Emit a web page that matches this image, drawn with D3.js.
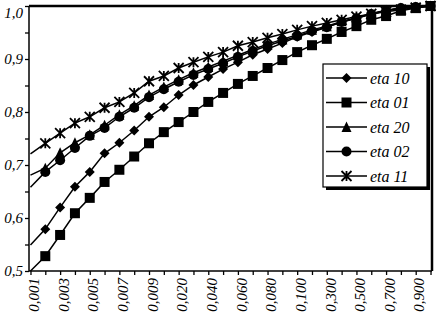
<!DOCTYPE html>
<html>
<head>
<meta charset="utf-8">
<script src="https://cdn.jsdelivr.net/npm/d3@7"></script>
<style>
  body { margin: 0; background: #fff; }
  text { font-family: "Liberation Serif", "Times New Roman", serif; font-style: italic; fill: #000; }
</style>
</head>
<body>
<svg width="437" height="320"></svg>

<script>

  // data
  var categories = ["0,001", "0,002", "0,003", "0,004", "0,005", "0,006", "0,007", "0,008", "0,009",
                    "0,010", "0,020", "0,030", "0,040", "0,050", "0,060", "0,070", "0,080", "0,090",
                    "0,100", "0,200", "0,300", "0,400", "0,500", "0,600", "0,700", "0,800", "0,900"];

  var eta10 = [0.579, 0.620, 0.659, 0.687, 0.722, 0.742, 0.765, 0.791, 0.809, 0.832, 0.851, 0.866, 0.881, 0.894,
               0.908, 0.919, 0.930, 0.942, 0.951, 0.960, 0.970, 0.977, 0.985, 0.991, 0.996, 0.998, 1.000];
  var eta01 = [0.528, 0.568, 0.609, 0.638, 0.668, 0.691, 0.716, 0.741, 0.762, 0.781, 0.800, 0.819, 0.836, 0.853,
               0.868, 0.883, 0.898, 0.913, 0.926, 0.938, 0.951, 0.962, 0.974, 0.981, 0.991, 0.996, 1.000];
  var eta20 = [0.694, 0.723, 0.742, 0.757, 0.775, 0.795, 0.812, 0.832, 0.847, 0.861, 0.874, 0.885, 0.896, 0.907,
               0.918, 0.928, 0.937, 0.946, 0.955, 0.962, 0.971, 0.978, 0.986, 0.992, 0.996, 0.998, 1.000];
  var eta02 = [0.687, 0.709, 0.732, 0.755, 0.770, 0.791, 0.808, 0.828, 0.843, 0.857, 0.870, 0.881, 0.892, 0.904,
               0.915, 0.925, 0.934, 0.943, 0.953, 0.960, 0.970, 0.977, 0.985, 0.991, 0.996, 0.998, 1.000];
  var eta11 = [0.741, 0.760, 0.779, 0.791, 0.808, 0.819, 0.836, 0.858, 0.868, 0.883, 0.894, 0.904, 0.913, 0.925,
               0.932, 0.940, 0.947, 0.955, 0.962, 0.968, 0.974, 0.980, 0.985, 0.989, 0.993, 0.997, 1.000];

  // where each line meets the value axis
  var axisStart = { "eta 10": 0.549, "eta 01": 0.500, "eta 20": 0.681, "eta 02": 0.658, "eta 11": 0.721 };

  var seriesNames = ["eta 10", "eta 01", "eta 20", "eta 02", "eta 11"];
  var seriesShapes = ["diamond", "square", "triangle", "circle", "star"];
  var yTicks = [0.5, 0.6, 0.7, 0.8, 0.9, 1.0];

  var series = [eta10, eta01, eta20, eta02, eta11].map(function(values, i){
    return { name: seriesNames[i], shape: seriesShapes[i], start: axisStart[seriesNames[i]], values: values };
  });

  // layout
  var plotLeft = 29, plotRight = 432, plotTop = 6, plotBottom = 271;

  var svg = d3.select("svg");

  var x = d3.scaleLinear().domain([-0.1, 27.1]).range([plotLeft, plotRight]);
  var y = d3.scaleLinear().domain([0.5, 1.0]).range([plotBottom, plotTop]);

  // value axis, minor ticks every 0.05
  var yAxis = d3.axisLeft(y)
    .tickValues(d3.range(0, 11).map(function(i){ return 0.5 + i * 0.05; }))
    .tickSize(4)
    .tickFormat(function(d){
      var hit = yTicks.filter(function(t){ return Math.abs(t - d) < 1e-6; });
      return hit.length ? d3.format(".1f")(hit[0]).replace(".", ",") : "";
    });

  var gy = svg.append("g").attr("transform", "translate(" + plotLeft + ",0)").call(yAxis);
  gy.select(".domain").remove();
  gy.selectAll("line").attr("stroke", "#000").attr("stroke-width", 1.3);
  gy.selectAll("text")
    .attr("x", -6)
    .attr("font-size", 15)
    .attr("font-family", null)
    .attr("dy", function(d){ return d > 0.99 ? "0.75em" : "0.32em"; });

  // category axis
  var xAxis = d3.axisBottom(x)
    .tickValues(d3.range(0, 28))
    .tickSize(4)
    .tickFormat(function(d){
      return (d % 2 === 0 && d < categories.length) ? categories[d] : "";
    });

  var gx = svg.append("g").attr("transform", "translate(0," + plotBottom + ")").call(xAxis);
  gx.select(".domain").remove();
  gx.selectAll("line").attr("stroke", "#000").attr("stroke-width", 1.3);
  gx.selectAll("text")
    .attr("font-size", 15)
    .attr("font-family", null)
    .attr("text-anchor", "end")
    .attr("transform", "rotate(-90)")
    .attr("x", -7)
    .attr("y", 3)
    .attr("dy", "0.35em");

  // plot frame
  svg.append("line").attr("x1", plotLeft).attr("x2", plotLeft).attr("y1", plotTop).attr("y2", plotBottom)
    .attr("stroke", "#000").attr("stroke-width", 1.5);
  svg.append("line").attr("x1", plotLeft).attr("x2", plotRight).attr("y1", plotBottom).attr("y2", plotBottom)
    .attr("stroke", "#000").attr("stroke-width", 1.5);
  svg.append("line").attr("x1", plotLeft).attr("x2", plotRight + 1).attr("y1", plotTop).attr("y2", plotTop)
    .attr("stroke", "#000").attr("stroke-width", 2.5);
  svg.append("line").attr("x1", plotRight).attr("x2", plotRight).attr("y1", plotTop).attr("y2", plotBottom)
    .attr("stroke", "#000").attr("stroke-width", 2.5);

  // markers
  function drawMarker(g, shape, cx, cy){
    var s = 5;
    if (shape === "diamond") {
      g.append("path").attr("d", "M" + cx + "," + (cy - s) + "L" + (cx + s) + "," + cy + "L" + cx + "," + (cy + s) + "L" + (cx - s) + "," + cy + "Z");
    } else if (shape === "square") {
      g.append("rect").attr("x", cx - s).attr("y", cy - s).attr("width", 2 * s).attr("height", 2 * s);
    } else if (shape === "triangle") {
      g.append("path").attr("d", "M" + cx + "," + (cy - s - 0.5) + "L" + (cx + s) + "," + (cy + s) + "L" + (cx - s) + "," + (cy + s) + "Z");
    } else if (shape === "circle") {
      g.append("circle").attr("cx", cx).attr("cy", cy).attr("r", s);
    } else {
      g.append("path")
        .attr("d", "M" + (cx - s) + "," + (cy - s) + "L" + (cx + s) + "," + (cy + s) +
                   "M" + (cx + s) + "," + (cy - s) + "L" + (cx - s) + "," + (cy + s) +
                   "M" + cx + "," + (cy - s) + "L" + cx + "," + (cy + s))
        .attr("fill", "none").attr("stroke", "#000").attr("stroke-width", 1.8);
    }
  }

  var line = d3.line()
    .x(function(d){ return x(d.k); })
    .y(function(d){ return y(d.v); });

  series.forEach(function(s){
    var pts = [{ k: 0, v: s.start }].concat(s.values.map(function(v, i){ return { k: i + 1, v: v }; }));

    svg.append("path")
      .datum(pts)
      .attr("d", line)
      .attr("fill", "none")
      .attr("stroke", "#000")
      .attr("stroke-width", 1.5);

    var g = svg.append("g").attr("fill", "#000");
    pts.slice(1).forEach(function(p){
      drawMarker(g, s.shape, x(p.k), y(p.v));
    });
  });

  // legend
  var lx = 323, ly = 64, lw = 104, lh = 123;
  svg.append("rect").attr("x", lx + 3).attr("y", ly + 3).attr("width", lw).attr("height", lh).attr("fill", "#000");
  svg.append("rect").attr("x", lx).attr("y", ly).attr("width", lw).attr("height", lh)
    .attr("fill", "#fff").attr("stroke", "#000").attr("stroke-width", 1.2);

  var legend = svg.append("g").selectAll("g")
    .data(series)
    .enter().append("g")
    .attr("transform", function(d, i){ return "translate(" + lx + "," + (ly + 14 + i * 24.5) + ")"; });

  legend.append("line")
    .attr("x1", 3).attr("x2", 44)
    .attr("stroke", "#000").attr("stroke-width", 1.5);

  legend.each(function(d){
    var g = d3.select(this).append("g").attr("fill", "#000");
    drawMarker(g, d.shape, 23.5, 0);
  });

  legend.append("text")
    .attr("x", 47)
    .attr("dy", "0.35em")
    .attr("font-size", 16)
    .text(function(d){ return d.name; });

</script>
</body>
</html>
